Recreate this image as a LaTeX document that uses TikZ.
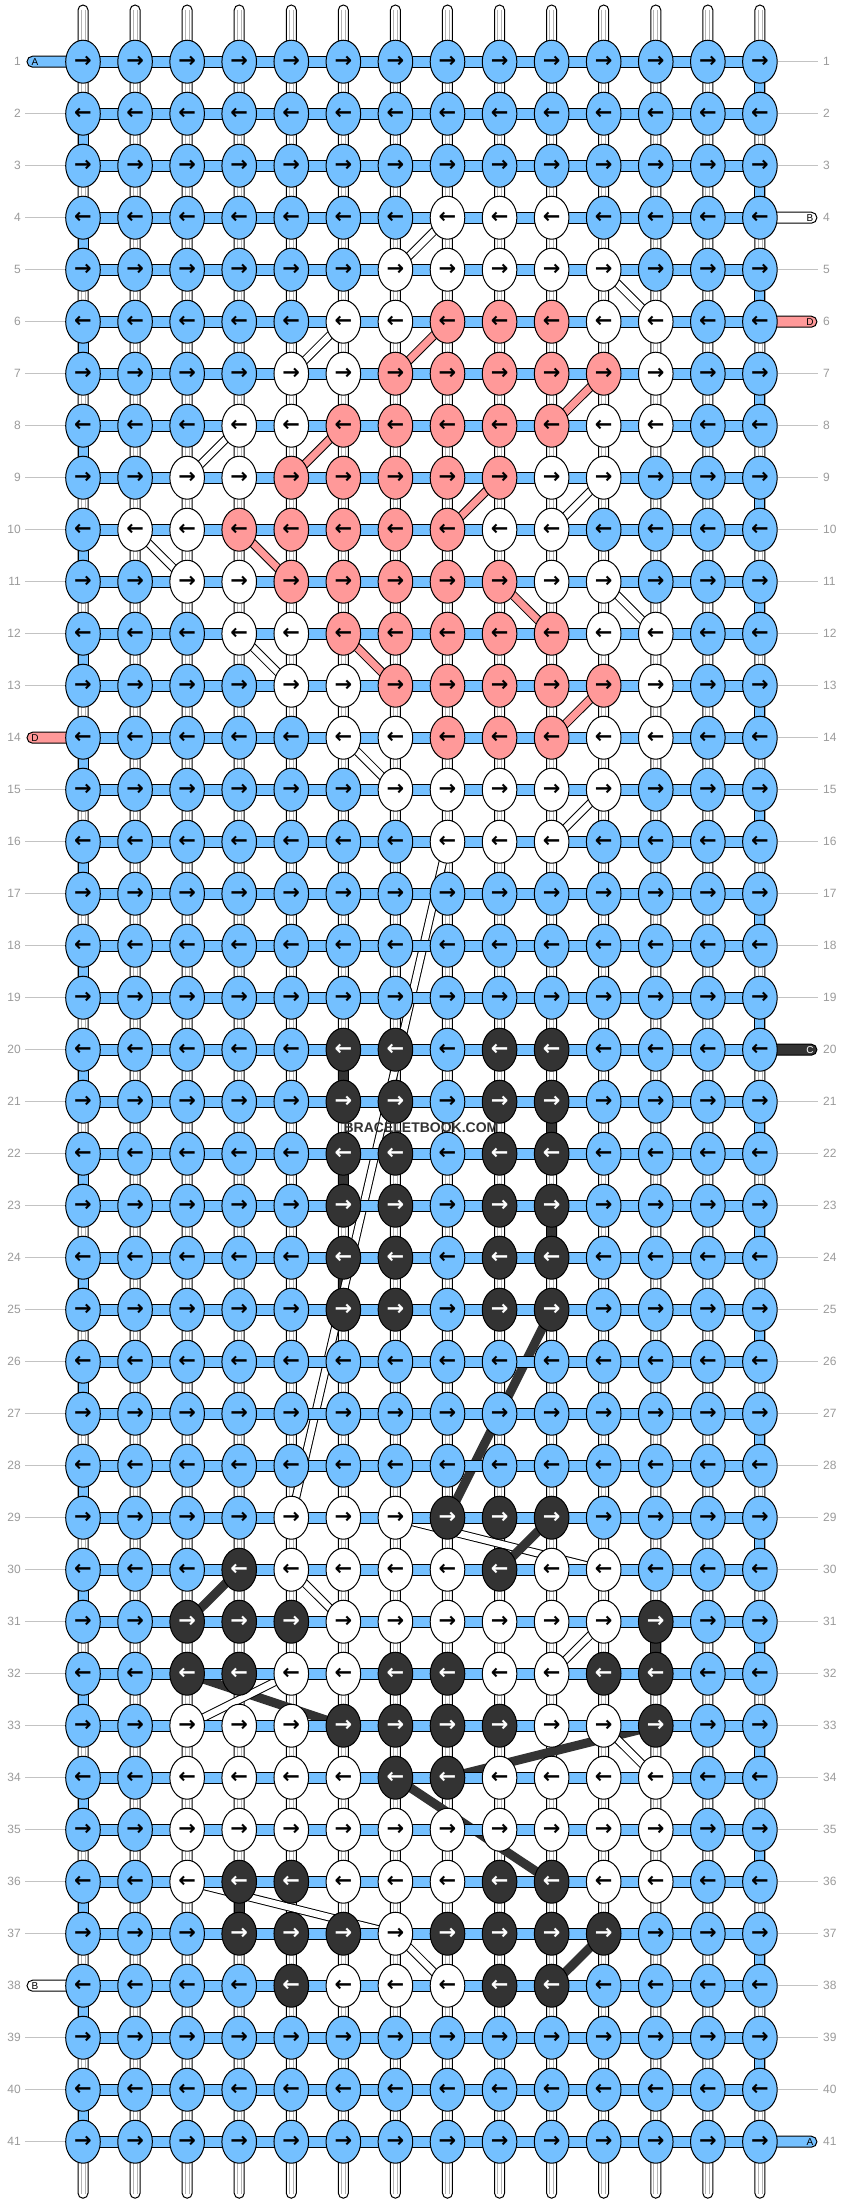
\documentclass[tikz,border=0pt]{standalone}
\usepackage{fontspec}
\setmainfont{Liberation Sans}
\newfontfamily\arrowfont{DejaVu Sans}
\usetikzlibrary{shapes.geometric,calc}
\definecolor{cb}{RGB}{116,192,255}
\definecolor{cw}{RGB}{255,255,255}
\definecolor{cr}{RGB}{255,153,153}
\definecolor{cd}{RGB}{51,51,51}
\colorlet{tb}{black}
\colorlet{tw}{black}
\colorlet{tr}{black}
\colorlet{td}{white}
\definecolor{numgray}{RGB}{155,155,155}
\definecolor{leadgray}{RGB}{195,195,195}
\definecolor{stripegray}{RGB}{180,180,180}
\pgfdeclarelayer{tubes}
\pgfdeclarelayer{strands}
\pgfdeclarelayer{bands}
\pgfsetlayers{tubes,strands,bands,main}
\begin{document}
\begin{tikzpicture}[x=1pt,y=-1pt,
  knot/.style={ellipse,draw=black,line width=1pt,minimum width=34.6pt,minimum height=43pt,inner sep=0pt,font=\arrowfont\bfseries\fontsize{21}{21}\selectfont},
  tube/.style={draw=black,line width=1pt,fill=white,rounded corners=5pt},
  stripe/.style={draw=stripegray,line width=0.8pt},
  seg/.style={draw=black,line width=1pt},
  band/.style={draw=black,line width=1pt,fill=cb},
  pill/.style={draw=black,line width=1pt,rounded corners=5.5pt},
  pilltext/.style={font=\fontsize{10}{10}\selectfont,inner sep=0pt},
  rownum/.style={text=numgray,font=\fontsize{12}{12}\selectfont,inner sep=0pt},
  lead/.style={draw=leadgray,line width=1pt},
  sw/.style={draw=black,line width=1pt,double=white,double distance=6.5pt},
  sr/.style={draw=black,line width=1pt,double=cr,double distance=7pt},
  sd/.style={draw=cd,line width=1pt,double=cd,double distance=7pt},
  wmark/.style={font=\bfseries\fontsize{14}{14}\selectfont,text=cd,inner sep=1pt}
]
\useasboundingbox (0,0) rectangle (844,2204);
\begin{pgfonlayer}{tubes}
\fill[white] (0,0) rectangle (844,2204);
\end{pgfonlayer}

% knots
\foreach \rowspec [count=\r] in {
{b,b,b,b,b,b,b,b,b,b,b,b,b,b},
{b,b,b,b,b,b,b,b,b,b,b,b,b,b},
{b,b,b,b,b,b,b,b,b,b,b,b,b,b},
{b,b,b,b,b,b,b,w,w,w,b,b,b,b},
{b,b,b,b,b,b,w,w,w,w,w,b,b,b},
{b,b,b,b,b,w,w,r,r,r,w,w,b,b},
{b,b,b,b,w,w,r,r,r,r,r,w,b,b},
{b,b,b,w,w,r,r,r,r,r,w,w,b,b},
{b,b,w,w,r,r,r,r,r,w,w,b,b,b},
{b,w,w,r,r,r,r,r,w,w,b,b,b,b},
{b,b,w,w,r,r,r,r,r,w,w,b,b,b},
{b,b,b,w,w,r,r,r,r,r,w,w,b,b},
{b,b,b,b,w,w,r,r,r,r,r,w,b,b},
{b,b,b,b,b,w,w,r,r,r,w,w,b,b},
{b,b,b,b,b,b,w,w,w,w,w,b,b,b},
{b,b,b,b,b,b,b,w,w,w,b,b,b,b},
{b,b,b,b,b,b,b,b,b,b,b,b,b,b},
{b,b,b,b,b,b,b,b,b,b,b,b,b,b},
{b,b,b,b,b,b,b,b,b,b,b,b,b,b},
{b,b,b,b,b,d,d,b,d,d,b,b,b,b},
{b,b,b,b,b,d,d,b,d,d,b,b,b,b},
{b,b,b,b,b,d,d,b,d,d,b,b,b,b},
{b,b,b,b,b,d,d,b,d,d,b,b,b,b},
{b,b,b,b,b,d,d,b,d,d,b,b,b,b},
{b,b,b,b,b,d,d,b,d,d,b,b,b,b},
{b,b,b,b,b,b,b,b,b,b,b,b,b,b},
{b,b,b,b,b,b,b,b,b,b,b,b,b,b},
{b,b,b,b,b,b,b,b,b,b,b,b,b,b},
{b,b,b,b,w,w,w,d,d,d,b,b,b,b},
{b,b,b,d,w,w,w,w,d,w,w,b,b,b},
{b,b,d,d,d,w,w,w,w,w,w,d,b,b},
{b,b,d,d,w,w,d,d,w,w,d,d,b,b},
{b,b,w,w,w,d,d,d,d,w,w,d,b,b},
{b,b,w,w,w,w,d,d,w,w,w,w,b,b},
{b,b,w,w,w,w,w,w,w,w,w,w,b,b},
{b,b,w,d,d,w,w,w,d,d,w,w,b,b},
{b,b,b,d,d,d,w,d,d,d,d,b,b,b},
{b,b,b,b,d,w,w,w,d,d,b,b,b,b},
{b,b,b,b,b,b,b,b,b,b,b,b,b,b},
{b,b,b,b,b,b,b,b,b,b,b,b,b,b},
{b,b,b,b,b,b,b,b,b,b,b,b,b,b}}{
  \foreach \k [count=\c] in \rowspec {
    \node[knot,fill=c\k,text=t\k] (n-\r-\c) at ({83+(\c-1)*52.07},{61.7+(\r-1)*52}) {\ifodd\r →\else ←\fi};
  }
}

% vertical strands
\begin{pgfonlayer}{tubes}
\foreach \c in {1,...,14}{
  \draw[tube] ($(n-1-\c.center)+(-5,-56.7)$) rectangle ($(n-41-\c.center)+(5,56.5)$);
  \draw[stripe] ($(n-1-\c.center)+(-2,-52)$) -- ($(n-41-\c.center)+(-2,52)$);
  \draw[stripe] ($(n-1-\c.center)+(2,-52)$) -- ($(n-41-\c.center)+(2,52)$);
}
\foreach \r in {2,4,...,40}{
  \pgfmathtruncatemacro\rr{\r+1}
  \draw[seg,fill=cb] ($(n-\r-1.center)+(-5,0)$) rectangle ($(n-\rr-1.center)+(5,0)$);
}
\foreach \r in {1,3,...,39}{
  \pgfmathtruncatemacro\rr{\r+1}
  \draw[seg,fill=cb] ($(n-\r-14.center)+(-5,0)$) rectangle ($(n-\rr-14.center)+(5,0)$);
}
\foreach \c/\r in {6/20,6/22,6/24,10/21,10/23,12/31,4/36}{
  \pgfmathtruncatemacro\rr{\r+1}
  \draw[seg,fill=cd] ($(n-\r-\c.center)+(-5,0)$) rectangle ($(n-\rr-\c.center)+(5,0)$);
}
\end{pgfonlayer}

% diagonal strands
\begin{pgfonlayer}{strands}
\draw[sw] (n-29-7.center) -- (n-30-11.center);
\foreach \ya/\xa/\yb/\xb in {25/10/29/8,29/10/30/9,30/4/31/3,32/3/33/6,33/12/34/8,34/7/36/10,37/11/38/10}{
  \draw[sd] (n-\ya-\xa.center) -- (n-\yb-\xb.center);
}
\foreach \ya/\xa/\yb/\xb in {6/8/7/7,7/11/8/10,8/6/9/5,9/9/10/8,10/4/11/5,11/9/12/10,12/6/13/7,13/11/14/10}{
  \draw[sr] (n-\ya-\xa.center) -- (n-\yb-\xb.center);
}
\foreach \ya/\xa/\yb/\xb in {4/8/5/7,5/11/6/12,6/6/7/5,8/4/9/3,9/11/10/10,10/2/11/3,11/11/12/12,12/4/13/5,14/6/15/7,15/11/16/10,16/8/29/5,30/5/31/6,31/11/32/10,32/5/33/3,33/11/34/12,36/3/37/7,37/7/38/8}{
  \draw[sw] (n-\ya-\xa.center) -- (n-\yb-\xb.center);
}
\end{pgfonlayer}

% horizontal bands and thread ends
\begin{pgfonlayer}{bands}
\foreach \r in {1,...,41}{
  \draw[band] ($(n-\r-1.center)+(0,-5.6)$) rectangle ($(n-\r-14.center)+(0,5.6)$);
}
\foreach \r/\col in {1/cb,14/cr,38/cw}{
  \draw[pill,fill=\col] ($(n-\r-1.center)+(-56,-5.5)$) rectangle ($(n-\r-1.center)+(0,5.5)$);
}
\foreach \r/\col in {4/cw,6/cr,20/cd,41/cb}{
  \draw[pill,fill=\col] ($(n-\r-14.center)+(0,-5.5)$) rectangle ($(n-\r-14.center)+(57,5.5)$);
}
\end{pgfonlayer}
\foreach \r/\l in {1/A,14/D,38/B}{
  \node[pilltext] (pl-\r) at ($(n-\r-1.center)+(-48,0)$) {\l};
}
\foreach \r/\l/\tc in {4/B/black,6/D/black,20/C/white,41/A/black}{
  \node[pilltext,text=\tc] (pr-\r) at ($(n-\r-14.center)+(50,0)$) {\l};
}

% row numbers
\foreach \r in {1,...,41}{
  \node[rownum,anchor=east] (ln-\r) at ($(n-\r-1.center)+(-62,0)$) {\r};
  \node[rownum,anchor=west] (rn-\r) at ($(n-\r-14.center)+(63,0)$) {\r};
}
\foreach \r in {2,3,...,13,15,16,...,37,39,40,41}{
  \draw[lead] ([xshift=4pt]ln-\r.east) -- (n-\r-1.west);
}
\foreach \r in {1,2,3,5,7,8,...,19,21,22,...,40}{
  \draw[lead] (n-\r-14.east) -- ([xshift=-5pt]rn-\r.west);
}

\node[wmark] (wm) at (421,1128) {BRACELETBOOK.COM};
\end{tikzpicture}
\end{document}
